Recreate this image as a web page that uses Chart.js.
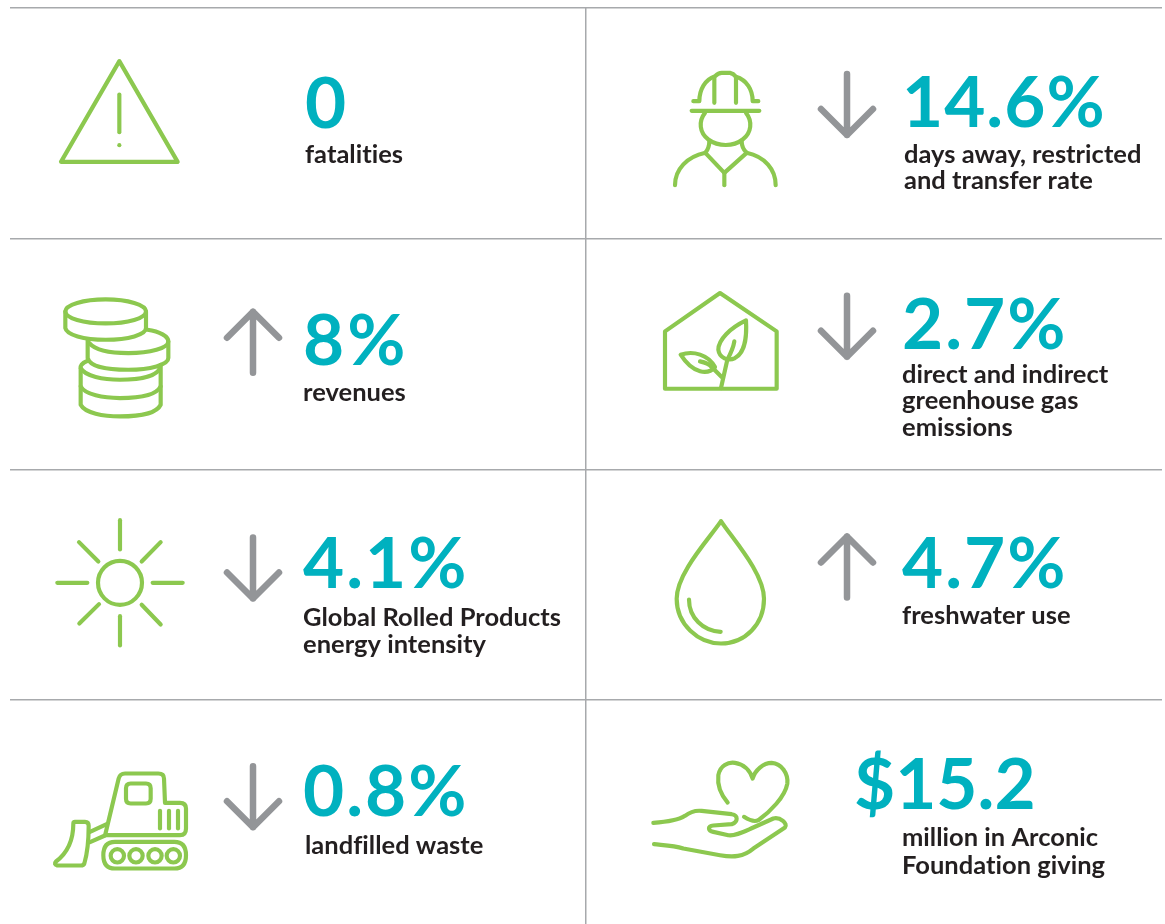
<!DOCTYPE html>
<html>
<head>
<meta charset="utf-8">
<title>Arconic sustainability highlights</title>
<script src="https://cdn.jsdelivr.net/npm/chart.js@4"></script>
<style>
  html, body { margin: 0; background: #fff; }
  canvas { display: block; }
</style>
</head>
<body>
<canvas id="kpiChart" width="1165" height="924"></canvas>
<script>
// values
const values = [0, 14.6, 8, 2.7, 4.1, 4.7, 0.8, 15.2];
const valueLabels = ['0', '14.6%', '8%', '2.7%', '4.1%', '4.7%', '0.8%', '$15.2'];
const directions = ['', 'down', 'up', 'down', 'down', 'up', 'down', ''];
const captions = [
  ['fatalities'],
  ['days away, restricted', 'and transfer rate'],
  ['revenues'],
  ['direct and indirect', 'greenhouse gas', 'emissions'],
  ['Global Rolled Products', 'energy intensity'],
  ['freshwater use'],
  ['landfilled waste'],
  ['million in Arconic', 'Foundation giving']
];
const columns = [0, 1, 0, 1, 0, 1, 0, 1];
const rows = [0, 0, 1, 1, 2, 2, 3, 3];

// offsets inside a cell, in px from its top left corner
const numberOffsets = [[295, 120], [316, 119], [293, 126], [316, 110], [293, 119], [316, 119], [293, 116], [268, 109]];
const numberSpacing = [-0.5, 1, 3, 2, 2, 2, 2, 0];
const captionOffsets = [[295, 155], [318, 155], [293, 162], [316, 144], [293, 157], [316, 155], [295, 154], [316, 146]];
const captionLeading = [26, 26, 26, 26.5, 27, 26, 26, 27.5];
const arrowOffsets = [null, [261, 66], [243, 73], [261, 57], [243, 68], [261, 67], [243, 66], null];
const iconOffsets = [[-10, -8.5], [54, 41.5], [30, 46], [64, 41], [30, 40], [74, 40], [30, 60], [54, 50]];

const GREEN = '#8cc84f';
const TEAL = '#00b1bf';
const GREY = '#939598';
const INK = '#231f20';

// icon outlines, drawn at 3x and scaled down
const icons = [
  ['M358 185L533 487L183 487Z', 'M358 285L358 398', 'M358 437L358 437.1'],
  ['M160 155L178 155C178 120 195 90 225 80Q235 70 245 70L270 70Q280 72 288 82C320 92 338 120 338 155L355 155',
    'M223 85L223 160', 'M288 85L288 160', 'M155 184L358 184',
    'M195 190C175 215 178 250 205 270C235 292 280 292 308 270C335 250 338 215 318 190',
    'M208 275Q208 295 196 310', 'M305 275Q305 295 320 310',
    'M105 407C105 360 140 322 196 310L253 370L320 310C375 322 407 360 407 407', 'M253 370L253 407'],
  ['M76 80C76 60 130 44 197 44C264 44 318 60 318 80C318 100 264 116 197 116C130 116 76 100 76 80Z',
    'M76 80L76 130C80 150 130 165 197 165C265 165 318 150 318 130L318 80',
    'M322 135C360 140 385 155 385 170C385 190 330 205 265 205C210 205 165 195 148 175',
    'M143 165L143 220C150 245 200 255 265 255C330 255 385 240 385 220L385 170',
    'M143 228C125 235 120 245 122 250C135 275 190 285 240 285C300 285 350 275 360 250',
    'M122 305C135 330 190 340 240 340C300 340 350 330 362 305',
    'M122 250L122 360C135 385 190 395 240 395C300 395 350 385 362 360L362 240'],
  ['M210 40L380 155L380 327L45 327L45 155Z',
    'M288 122C240 145 205 180 205 210C208 235 235 245 255 235C290 215 290 160 288 122Z',
    'M253 185C250 205 240 225 232 240L213 325',
    'M92 225C130 212 175 225 195 262C175 285 130 285 92 225Z',
    'M150 245Q175 250 185 262L215 292'],
  ['M306 220A66 66 0 1 1 174 220A66 66 0 1 1 306 220Z', 'M240 32L240 120', 'M240 320L240 408', 'M52 220L142 220',
    'M338 220L428 220', 'M117 98L175 156', 'M362 98L305 156', 'M177 284L118 342', 'M305 286L362 345'],
  ['M183 35C150 85 50 190 50 268C50 345 115 402 183 402C255 402 312 345 312 268C312 190 215 85 183 35Z',
    'M87 270C87 325 130 365 182 367'],
  ['M196 222L236 55Q240 40 255 40L355 40Q372 40 372 55L375 128L420 128Q438 128 438 145L438 205Q438 225 420 225L196 225',
    'M272 70L318 70Q332 70 332 84L332 116Q332 130 318 130L272 130Q258 130 258 116L258 84Q258 70 272 70Z',
    'M360 152L360 205', 'M387 152L387 205', 'M414 152L414 205',
    'M225 245L403 245Q438 245 438 285Q438 325 403 325L225 325Q190 325 190 285Q190 245 225 245Z',
    'M252 287A20 20 0 1 1 212 287A20 20 0 1 1 252 287Z', 'M308 287A20 20 0 1 1 268 287A20 20 0 1 1 308 287Z',
    'M365 287A20 20 0 1 1 325 287A20 20 0 1 1 365 287Z', 'M420 287A20 20 0 1 1 380 287A20 20 0 1 1 420 287Z',
    'M200 192L150 215', 'M195 226L150 246',
    'M105 185L135 185Q146 185 146 197C146 230 145 270 133 310Q131 316 122 316L52 316Q40 312 48 304C80 280 100 240 100 190Q100 185 105 185Z'],
  ['M263 157C240 130 232 100 235 75C240 45 265 35 285 38C310 42 330 60 338 85C345 60 370 38 395 38C425 40 445 70 442 100C435 140 390 185 355 210Q340 218 312 200',
    'M40 218C90 215 115 210 135 197C150 185 165 180 185 182L275 192C295 195 295 215 275 222L220 226C200 228 205 242 220 245L265 255C285 258 310 245 340 232L400 205C420 200 445 220 435 232L340 295C310 320 280 322 240 315L130 295C100 285 70 285 42 282']
];

function drawIcon(ctx, paths, x, y) {
  ctx.save();
  ctx.translate(x, y);
  ctx.scale(1 / 3, 1 / 3);
  ctx.strokeStyle = GREEN;
  ctx.lineWidth = 12.5;
  ctx.lineCap = 'round';
  ctx.lineJoin = 'round';
  paths.forEach(function (d) {
    ctx.stroke(new Path2D(d));
  });
  ctx.restore();
}

function drawArrow(ctx, x, top, direction) {
  const tip = direction === 'down' ? top + 61 : top;
  const tail = direction === 'down' ? top : top + 61;
  const back = direction === 'down' ? -26 : 26;
  ctx.save();
  ctx.strokeStyle = GREY;
  ctx.lineWidth = 6.5;
  ctx.lineCap = 'round';
  ctx.lineJoin = 'round';
  ctx.beginPath();
  ctx.moveTo(x, tail);
  ctx.lineTo(x, tip);
  ctx.moveTo(x - 26, tip + back);
  ctx.lineTo(x, tip);
  ctx.lineTo(x + 26, tip + back);
  ctx.stroke();
  ctx.restore();
}

// everything in a cell hangs off the cell corner that the scales give
const cellPlugin = {
  id: 'cellPlugin',
  afterDatasetsDraw(chart) {
    const { ctx, scales } = chart;
    values.forEach(function (value, i) {
      const x = scales.x.getPixelForValue(columns[i]);
      const y = scales.y.getPixelForValue(rows[i]);
      drawIcon(ctx, icons[i], x + iconOffsets[i][0], y + iconOffsets[i][1]);
      if (directions[i]) {
        drawArrow(ctx, x + arrowOffsets[i][0], y + arrowOffsets[i][1], directions[i]);
      }
      ctx.save();
      ctx.textAlign = 'left';
      ctx.textBaseline = 'alphabetic';
      ctx.fillStyle = TEAL;
      ctx.font = '700 71px Lato';
      ctx.letterSpacing = numberSpacing[i] + 'px';
      ctx.fillText(valueLabels[i], x + numberOffsets[i][0], y + numberOffsets[i][1]);
      ctx.fillStyle = INK;
      ctx.font = '700 25.5px Lato';
      // a tiny spacing keeps the "ti" ligature out
      ctx.letterSpacing = '0.01px';
      captions[i].forEach(function (line, n) {
        ctx.fillText(line, x + captionOffsets[i][0], y + captionOffsets[i][1] + n * captionLeading[i]);
      });
      ctx.restore();
    });
  }
};

const ctx = document.getElementById('kpiChart').getContext('2d');
new Chart(ctx, {
  type: 'scatter',
  data: {
    datasets: [{
      label: 'Highlights',
      data: values.map(function (value, i) {
        return { x: columns[i], y: rows[i], value: value };
      }),
      pointRadius: 0
    }]
  },
  plugins: [cellPlugin],
  options: {
    responsive: false,
    animation: false,
    layout: { padding: { left: 10, right: 3, top: 8, bottom: 0 } },
    plugins: { legend: { display: false }, tooltip: { enabled: false } },
    scales: {
      x: {
        type: 'linear',
        min: 0,
        max: 2,
        ticks: { display: false, stepSize: 1 },
        border: { display: false },
        grid: {
          drawTicks: false,
          lineWidth: 1.5,
          color: function (c) { return c.tick.value === 1 ? '#a7a9ac' : 'transparent'; }
        }
      },
      y: {
        type: 'linear',
        reverse: true,
        min: 0,
        max: 3.97,
        ticks: { display: false, stepSize: 1 },
        border: { display: false },
        grid: {
          drawTicks: false,
          lineWidth: 1.5,
          color: function (c) { return Number.isInteger(c.tick.value) ? '#a7a9ac' : 'transparent'; }
        }
      }
    }
  }
});
</script>
</body>
</html>
